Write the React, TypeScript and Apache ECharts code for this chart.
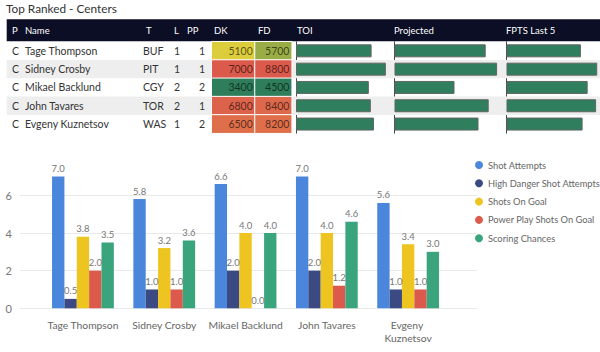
import React, { useEffect, useRef } from 'react';
import * as echarts from 'echarts';

// ---------- data ----------
const tableTitle = 'Top Ranked - Centers';
const headerLabels = ['P', 'Name', 'T', 'L', 'PP', 'DK', 'FD', 'TOI', 'Projected', 'FPTS Last 5'];
const positions = ['C', 'C', 'C', 'C', 'C'];
const players = ['Tage Thompson', 'Sidney Crosby', 'Mikael Backlund', 'John Tavares', 'Evgeny Kuznetsov'];
const teams = ['BUF', 'PIT', 'CGY', 'TOR', 'WAS'];
const lines = [1, 1, 2, 2, 1];
const powerPlay = [1, 1, 2, 1, 2];
const dkSalary = [5100, 7000, 3400, 6800, 6500];
const fdSalary = [5700, 8800, 4500, 8400, 8200];
const toi = [19.1, 22.7, 18.4, 18.9, 19.7];
const projected = [15.2, 17.1, 10.0, 15.7, 14.0];
const fptsLast5 = [13.2, 16.1, 14.4, 15.9, 13.5];

const statNames = ['Shot Attempts', 'High Danger Shot Attempts', 'Shots On Goal', 'Power Play Shots On Goal', 'Scoring Chances'];
const shotAttempts = [7.0, 5.8, 6.6, 7.0, 5.6];
const highDangerShotAttempts = [0.5, 1.0, 2.0, 2.0, 1.0];
const shotsOnGoal = [3.8, 3.2, 4.0, 4.0, 3.4];
const powerPlayShotsOnGoal = [2.0, 1.0, 0.0, 1.2, 1.0];
const scoringChances = [3.5, 3.6, 4.0, 4.6, 3.0];
const statValues = [shotAttempts, highDangerShotAttempts, shotsOnGoal, powerPlayShotsOnGoal, scoringChances];
const statColors = ['#4A86DC', '#3B4A82', '#EEC520', '#DC5A4C', '#3AA57C'];

const yMin = 0;
const yMax = 8;
const yInterval = 2;

// ---------- layout ----------
const FONT = "Lato, 'Noto Sans', sans-serif";
const ROW_TOP = 41.7;
const ROW_H = 18.3;
const TABLE_H = ROW_H * players.length;
const headerX = [12, 25, 146, 174, 187, 214, 258, 297, 394, 506];

const bodyColumns = [
  { x: 12, align: 'left', values: positions },
  { x: 25, align: 'left', values: players },
  { x: 143, align: 'left', values: teams },
  { x: 174, align: 'left', values: lines },
  { x: 205, align: 'right', values: powerPlay },
];

const heatColumns = [
  { name: 'DK', values: dkSalary, left: 211.7, width: 43.3 },
  { name: 'FD', values: fdSalary, left: 255, width: 36.7 },
];

const barColumns = [
  { name: 'TOI', values: toi, max: 24, left: 296, width: 95 },
  { name: 'Projected', values: projected, max: 18, left: 394.5, width: 108 },
  { name: 'FPTS Last 5', values: fptsLast5, max: 16.5, left: 506.5, width: 93 },
];

export default function App() {
  const ref = useRef<HTMLDivElement>(null);

  useEffect(() => {
    if (!ref.current) return;
    const chart = echarts.init(ref.current, undefined, { renderer: 'svg' });

    const grids: any[] = [];
    const xAxes: any[] = [];
    const yAxes: any[] = [];
    const series: any[] = [];
    const visualMaps: any[] = [];

    // grid 0: table text + row backgrounds
    grids.push({ left: 6.7, top: ROW_TOP, width: 593.3, height: TABLE_H });
    xAxes.push({ gridIndex: 0, type: 'value', min: 0, max: 1, show: false });
    yAxes.push({ gridIndex: 0, type: 'category', data: players, inverse: true, show: false });
    series.push({
      type: 'custom',
      xAxisIndex: 0,
      yAxisIndex: 0,
      z: 1,
      silent: true,
      data: players.map((_, i) => [0, i]),
      encode: { x: 0, y: 1 },
      renderItem: (params: any, api: any) => {
        const i = api.value(1);
        const pt = api.coord([0, i]);
        const h = api.size([0, 1])[1];
        const cs = params.coordSys;
        const children: any[] = [];
        if (i % 2 === 1) {
          children.push({
            type: 'rect',
            shape: { x: cs.x, y: pt[1] - h / 2, width: cs.width, height: h },
            style: { fill: '#EEEEEE' },
          });
        }
        bodyColumns.forEach((col) => {
          children.push({
            type: 'text',
            x: col.x,
            y: pt[1],
            style: {
              text: String(col.values[i]),
              fill: '#333333',
              font: `10.5px ${FONT}`,
              align: col.align,
              verticalAlign: 'middle',
              textAlign: col.align,
              textVerticalAlign: 'middle',
            },
          });
        });
        return { type: 'group', children };
      },
    });

    // heat cells DK / FD
    heatColumns.forEach((col) => {
      const gi = grids.length;
      grids.push({ left: col.left, top: ROW_TOP, width: col.width, height: TABLE_H });
      xAxes.push({ gridIndex: gi, type: 'category', data: [col.name], show: false });
      yAxes.push({ gridIndex: gi, type: 'category', data: players, inverse: true, show: false });
      const si = series.length;
      series.push({
        type: 'heatmap',
        xAxisIndex: gi,
        yAxisIndex: gi,
        z: 2,
        data: col.values.map((v, i) => [0, i, v]),
        itemStyle: { borderColor: '#ffffff', borderWidth: 1 },
        label: {
          show: true,
          position: 'insideRight',
          distance: 3,
          formatter: (p: any) => String(p.value[2]),
          color: 'rgba(0,0,0,0.62)',
          fontSize: 10.5,
          fontFamily: FONT,
        },
        emphasis: { disabled: true },
      });
      visualMaps.push({
        type: 'continuous',
        show: false,
        seriesIndex: si,
        dimension: 2,
        min: Math.min(...col.values),
        max: Math.max(...col.values),
        inRange: { color: ['#2E7D5B', '#8FA848', '#E6D23C', '#E0804A', '#DB5A4B'] },
      });
    });

    // data bar columns
    barColumns.forEach((col) => {
      const gi = grids.length;
      grids.push({ left: col.left, top: ROW_TOP, width: col.width, height: TABLE_H });
      xAxes.push({ gridIndex: gi, type: 'value', min: 0, max: col.max, show: false });
      yAxes.push({
        gridIndex: gi,
        type: 'category',
        data: players,
        inverse: true,
        axisLine: { show: true, lineStyle: { color: '#4a4a4a', width: 1 } },
        axisTick: { show: false },
        axisLabel: { show: false },
        splitLine: { show: false },
      });
      series.push({
        type: 'bar',
        name: col.name,
        xAxisIndex: gi,
        yAxisIndex: gi,
        z: 2,
        barWidth: 13,
        data: col.values,
        itemStyle: { color: '#2F7E5E', borderColor: '#5f6660', borderWidth: 1 },
        emphasis: { disabled: true },
      });
    });

    // chart: gridlines + y labels
    const gLines = grids.length;
    grids.push({ left: 20, right: 123, top: 157.7, bottom: 43.7 });
    xAxes.push({ gridIndex: gLines, type: 'value', min: 0, max: 1, show: false });
    yAxes.push({
      gridIndex: gLines,
      type: 'value',
      min: yMin,
      max: yMax,
      interval: yInterval,
      axisLine: { show: false },
      axisTick: { show: false },
      axisLabel: { color: '#777777', fontSize: 11, fontFamily: FONT, margin: 8, showMaxLabel: false },
      splitLine: { show: true, showMaxLine: false, lineStyle: { color: '#E9E9E9', width: 1 } },
    });

    // chart: bars
    const gBars = grids.length;
    grids.push({ left: 42.3, right: 151.2, top: 157.7, bottom: 43.7 });
    xAxes.push({
      gridIndex: gBars,
      type: 'category',
      data: players,
      axisLine: { show: false },
      axisTick: { show: false },
      axisLabel: {
        color: '#666666',
        fontSize: 10.3,
        fontFamily: FONT,
        margin: 10,
        lineHeight: 13,
        interval: 0,
        width: 79,
        overflow: 'break',
      },
    });
    yAxes.push({ gridIndex: gBars, type: 'value', min: yMin, max: yMax, show: false });
    statNames.forEach((name, k) => {
      series.push({
        type: 'bar',
        name,
        xAxisIndex: gBars,
        yAxisIndex: gBars,
        barGap: '0%',
        barCategoryGap: '24%',
        data: statValues[k],
        itemStyle: { color: statColors[k] },
        label: {
          show: true,
          position: 'top',
          distance: 3,
          color: '#777777',
          fontSize: 9.5,
          fontFamily: FONT,
          formatter: (p: any) => Number(p.value).toFixed(1),
        },
        emphasis: { disabled: true },
      });
    });

    const graphic: any[] = [
      {
        type: 'rect',
        left: 6.7,
        top: 19.3,
        shape: { width: 593.3, height: 22 },
        style: { fill: '#0B0E25' },
        z: 0,
      },
      ...headerLabels.map((t, i) => ({
        type: 'text',
        x: headerX[i],
        y: 30,
        z: 10,
        style: {
          text: t,
          fill: '#ffffff',
          font: `9.5px ${FONT}`,
          textAlign: 'left',
          textVerticalAlign: 'middle',
          align: 'left',
          verticalAlign: 'middle',
        },
      })),
    ];

    chart.setOption({
      animation: false,
      backgroundColor: '#ffffff',
      title: {
        text: tableTitle,
        left: 6,
        top: 2,
        padding: 0,
        textStyle: { color: '#333333', fontSize: 11.8, fontWeight: 'normal', fontFamily: FONT },
      },
      legend: {
        orient: 'vertical',
        left: 475,
        top: 159,
        padding: 0,
        data: statNames,
        icon: 'circle',
        itemWidth: 8,
        itemHeight: 8,
        itemGap: 6.3,
        selectedMode: false,
        textStyle: { color: '#666666', fontSize: 9.3, fontFamily: FONT, lineHeight: 12 },
      },
      graphic,
      grid: grids,
      xAxis: xAxes,
      yAxis: yAxes,
      visualMap: visualMaps,
      series,
    });

    return () => chart.dispose();
  }, []);

  return <div ref={ref} style={{ position: 'fixed', left: 0, top: 0, width: 600, height: 352 }} />;
}
